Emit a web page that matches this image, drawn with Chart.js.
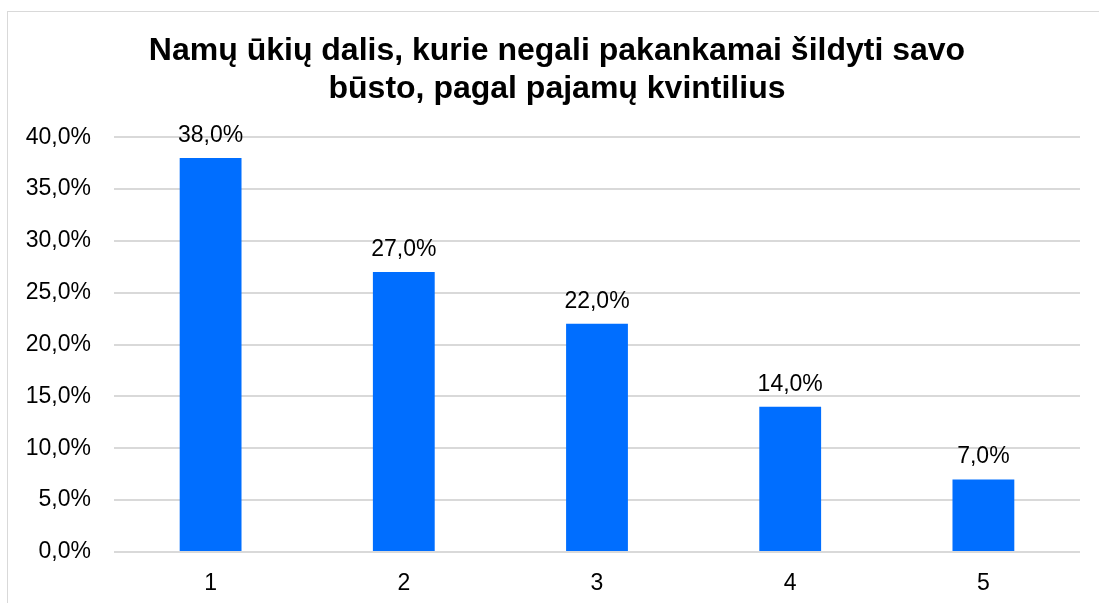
<!DOCTYPE html>
<html>
<head>
<meta charset="utf-8">
<script src="https://cdn.jsdelivr.net/npm/chart.js@4.4.1/dist/chart.umd.min.js"></script>
<style>
  html, body { margin: 0; padding: 0; background: #fff; overflow: hidden; }
  #box { position: absolute; left: 7px; top: 11px; width: 1098px; height: 600px; border: 1px solid #d9d9d9; }
  #box canvas { display: block; }
</style>
</head>
<body>
<div id="box"><canvas id="kvintiliai" width="1098" height="600"></canvas></div>
<script>
const kvintiliai = ['1', '2', '3', '4', '5'];
const dalis = [38.0, 27.0, 22.0, 14.0, 7.0];
const pavadinimas = ['Namų ūkių dalis, kurie negali pakankamai šildyti savo', 'būsto, pagal pajamų kvintilius'];

const procentai = v => v.toFixed(1).replace('.', ',') + '%';
const sriftas = '"Liberation Sans", Arial, sans-serif';

// reikšmės virš stulpelių
const reiksmes = {
    id: 'reiksmes',
    afterDatasetsDraw(chart) {
        const ctx = chart.ctx;
        const meta = chart.getDatasetMeta(0);
        ctx.save();
        ctx.font = '23px ' + sriftas;
        ctx.fillStyle = '#000';
        ctx.textAlign = 'center';
        ctx.textBaseline = 'alphabetic';
        meta.data.forEach((bar, i) => {
            ctx.fillText(procentai(dalis[i]), bar.x, bar.y - 16);
        });
        ctx.restore();
    }
};

const ctx = document.getElementById('kvintiliai').getContext('2d');
new Chart(ctx, {
    type: 'bar',
    data: {
        labels: kvintiliai,
        datasets: [{
            data: dalis,
            backgroundColor: '#006eff',
            categoryPercentage: 1,
            barPercentage: 0.32
        }]
    },
    options: {
        responsive: false,
        animation: false,
        layout: { padding: 0 },
        plugins: {
            legend: { display: false },
            tooltip: { enabled: false },
            title: {
                display: true,
                text: pavadinimas,
                color: '#000',
                font: { family: sriftas, size: 32, weight: 'bold', lineHeight: 1.19 },
                padding: { top: 20, bottom: 29 }
            }
        },
        scales: {
            x: {
                afterFit(scale) { scale.height = 60; },
                grid: { display: false, drawTicks: false },
                border: { display: false },
                ticks: { color: '#000', padding: 18, font: { family: sriftas, size: 23 } }
            },
            y: {
                min: 0,
                max: 40,
                afterFit(scale) { scale.width = 106; },
                grid: { color: '#d9d9d9', lineWidth: 2, drawTicks: false },
                border: { display: false },
                ticks: {
                    stepSize: 5,
                    color: '#000',
                    padding: 23,
                    font: { family: sriftas, size: 23 },
                    callback: v => procentai(v)
                }
            },
            // tuščia vieta dešinėje
            tarpas: {
                type: 'linear',
                position: 'right',
                afterFit(scale) { scale.width = 26; },
                grid: { display: false },
                border: { display: false },
                ticks: { display: false }
            }
        }
    },
    plugins: [reiksmes]
});
</script>
</body>
</html>
